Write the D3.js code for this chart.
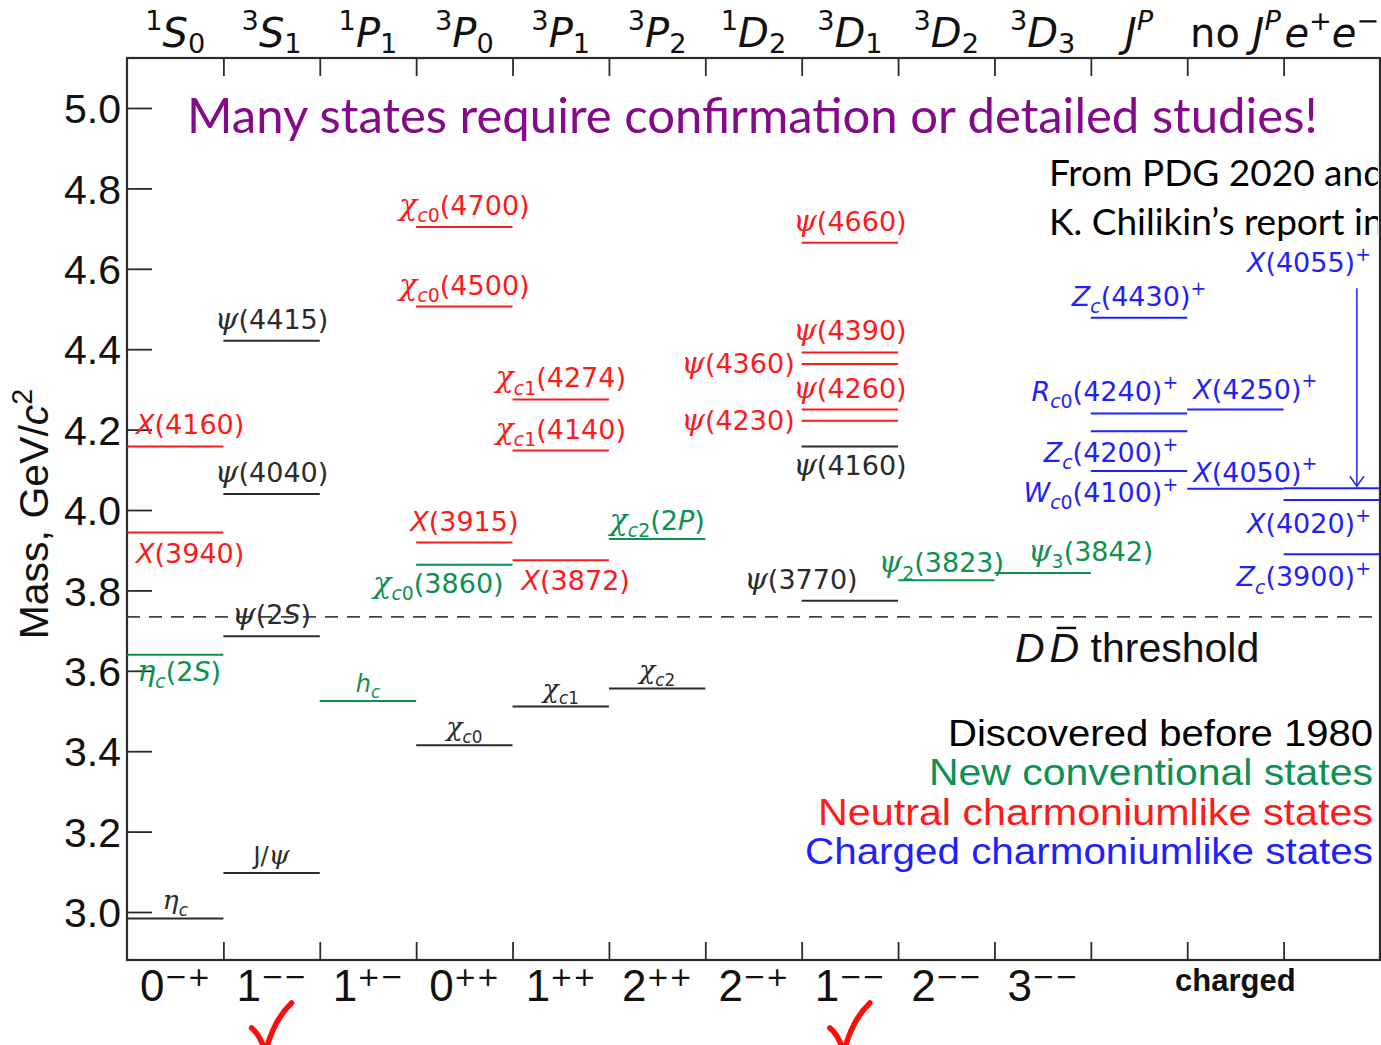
<!DOCTYPE html>
<html>
<head>
<meta charset="utf-8">
<script src="https://cdn.jsdelivr.net/npm/d3@7"></script>
<style>
  html, body { margin: 0; padding: 0; background: #fff; }
  svg { display: block; }
  text { white-space: pre; }
</style>
</head>
<body>
<svg id="chart" width="1381" height="1045"></svg>
<script>
// ---- Charmonium(-like) spectrum data -------------------------------------

// Spectroscopic term of each column (top) and J^PC of the neutral columns (bottom)
const termLabels = ["^1S_0", "^3S_1", "^1P_1", "^3P_0", "^3P_1", "^3P_2", "^1D_2", "^3D_1", "^3D_2", "^3D_3", "J^P", "[no] J^P", "e^+e^−"];
const jpcLabels = ["0^{−+}", "1^{−−}", "1^{+−}", "0^{++}", "1^{++}", "2^{++}", "2^{−+}", "1^{−−}", "2^{−−}", "3^{−−}"];
const chargedLabel = "charged";
const chargedColumns = [10, 11, 12];
const checkedColumns = [1, 7];           // the two 1-- columns
const massTicks = [3.0, 3.2, 3.4, 3.6, 3.8, 4.0, 4.2, 4.4, 4.6, 4.8, 5.0];
const ddThreshold = 3.734;               // 2 m(D), GeV/c^2
const yAxisTitle = "[Mass, GeV/]c^2";

// Each state: [name, mass (GeV/c^2), column]
const discoveredBefore1980 = [
  ["η_c", 2.984, 0],
  ["[J]/ψ", 3.097, 1],
  ["ψ(2S)", 3.686, 1],
  ["ψ(4040)", 4.040, 1],
  ["ψ(4415)", 4.421, 1],
  ["χ_{c0}", 3.415, 3],
  ["χ_{c1}", 3.511, 4],
  ["χ_{c2}", 3.556, 5],
  ["ψ(3770)", 3.774, 7],
  ["ψ(4160)", 4.158, 7]
];
const newConventional = [
  ["η_c(2S)", 3.640, 0],
  ["h_c", 3.525, 2],
  ["χ_{c0}(3860)", 3.864, 3],
  ["χ_{c2}(2P)", 3.928, 5],
  ["ψ_2(3823)", 3.825, 8],
  ["ψ_3(3842)", 3.843, 9]
];
const neutralExotic = [
  ["X(3940)", 3.944, 0],
  ["X(4160)", 4.158, 0],
  ["X(3915)", 3.919, 3],
  ["χ_{c0}(4500)", 4.506, 3],
  ["χ_{c0}(4700)", 4.704, 3],
  ["X(3872)", 3.875, 4],
  ["χ_{c1}(4140)", 4.148, 4],
  ["χ_{c1}(4274)", 4.275, 4],
  ["ψ(4230)", 4.222, 7],
  ["ψ(4260)", 4.250, 7],
  ["ψ(4360)", 4.363, 7],
  ["ψ(4390)", 4.392, 7],
  ["ψ(4660)", 4.665, 7]
];
const chargedExotic = [
  ["Z_c(4430)^+", 4.478, 10],
  ["R_{c0}(4240)^+", 4.240, 10],
  ["Z_c(4200)^+", 4.196, 10],
  ["W_{c0}(4100)^+", 4.097, 10],
  ["X(4250)^+", 4.250, 11],
  ["X(4050)^+", 4.053, 11],
  ["X(4055)^+", 4.054, 12],
  ["X(4020)^+", 4.025, 12],
  ["Z_c(3900)^+", 3.890, 12]
];

const groupNames = ["Discovered before 1980", "New conventional states", "Neutral charmoniumlike states", "Charged charmoniumlike states"];
const groupStates = [discoveredBefore1980, newConventional, neutralExotic, chargedExotic];

const headline = "Many states require confirmation or detailed studies!";
const sourceLines = ["From PDG 2020 and", "K. Chilikin’s report in"];

// ---- Styling ----------------------------------------------------------------
const groupColors = ["#2b2b2b", "#0d9150", "#ff1a1a", "#1f1fff"];
const legendColors = ["#000", "#0d9150", "#ff1a1a", "#1f1fff"];
const SANS = "'DejaVu Sans', sans-serif";
const SERIF = "'DejaVu Serif', serif";
const ARIAL = "'Liberation Sans', Arial, sans-serif";

// Label placement relative to its level (defaults: centred above the line)
const SMALL = { size: 24, dy: -9 };
const LEFT = { anchor: "end", at: 0, dx: -7, dy: 9 };
const labelLayout = {
  "η_c": SMALL, "[J]/ψ": SMALL, "h_c": SMALL,
  "χ_{c0}": SMALL, "χ_{c1}": SMALL, "χ_{c2}": SMALL,
  "η_c(2S)": { dx: 4, dy: 26 },
  "X(3940)": { dx: 15, dy: 30 },
  "X(4160)": { dx: 15 },
  "χ_{c0}(3860)": { dx: -26, dy: 28 },
  "X(3872)": { dx: 15, dy: 30 },
  "ψ(3770)": { dx: -49 },
  "ψ(4160)": { dy: 29 },
  "ψ(4230)": LEFT,
  "ψ(4360)": LEFT,
  "χ_{c2}(2P)": { dy: -9 },
  "ψ_2(3823)": { dx: -5, dy: -8 },
  "ψ_3(3842)": { dx: 48 },
  "R_{c0}(4240)^+": { anchor: "end", at: 1, dx: -9, dy: -13 },
  "Z_c(4200)^+": { anchor: "end", at: 1, dx: -9, dy: 31 },
  "W_{c0}(4100)^+": { anchor: "end", at: 1, dx: -9, dy: 31 },
  "X(4250)^+": { anchor: "start", at: 0, dx: 6, dy: -11 },
  "X(4050)^+": { anchor: "start", at: 0, dx: 6, dy: -7 },
  "X(4020)^+": { anchor: "end", at: 1, dx: -9, dy: 33 },
  "Z_c(3900)^+": { anchor: "end", at: 1, dx: -9, dy: 32 },
  "X(4055)^+": { anchor: "end", at: 1, dx: -9, dy: -216, arrow: { at: 0.76, from: -200, to: -2 } }
};

// ---- Scales -----------------------------------------------------------------
const svg = d3.select("#chart");
const frame = { left: 127, right: 1380, top: 58, bottom: 960 };
const nCols = termLabels.length;
const x = d3.scaleLinear().domain([0, nCols]).range([frame.left, frame.right]);
const y = d3.scaleLinear().domain([3.0, 5.0]).range([912, 108]);

// ---- Rich text: _sub, ^sup, [upright], Greek in serif italic ---------------
const GREEK = /[α-ωΑ-Ω]/;
function parseRich(str) {
  const out = [];
  let upright = false;
  for (let i = 0; i < str.length;) {
    const ch = str[i];
    if (ch === "[") { upright = true; i++; continue; }
    if (ch === "]") { upright = false; i++; continue; }
    if (ch === "_" || ch === "^") {
      const lvl = ch === "_" ? "sub" : "sup";
      let content;
      if (str[i + 1] === "{") { const j = str.indexOf("}", i + 2); content = str.slice(i + 2, j); i = j + 1; }
      else { content = str[i + 1]; i += 2; }
      for (const c of content) out.push({ c, lvl, upright });
      continue;
    }
    out.push({ c: ch, lvl: "base", upright });
    i++;
  }
  return out;
}
function charClass(d) {
  if (GREEK.test(d.c)) return "greek";
  if (/[A-Za-z]/.test(d.c) && !d.upright) return "ital";
  return "roman";
}
function richText(textSel, str, opt) {
  const o = Object.assign({ size: 27, script: 0.7, sub: 0.27, sup: -0.42, greekScale: 1.12, roman: SANS, ital: SANS, greek: SERIF, scriptRoman: null }, opt);
  const runs = [];
  parseRich(str).forEach(d => {
    const cls = charClass(d);
    const last = runs[runs.length - 1];
    if (last && last.lvl === d.lvl && last.cls === cls) last.s += d.c;
    else runs.push({ s: d.c, lvl: d.lvl, cls });
  });
  let shift = 0;
  runs.forEach(r => {
    const target = r.lvl === "sub" ? o.sub * o.size : r.lvl === "sup" ? o.sup * o.size : 0;
    let fs = r.lvl === "base" ? o.size : o.size * o.script;
    if (r.cls === "greek") fs *= o.greekScale;
    const t = textSel.append("tspan")
      .attr("dy", (target - shift).toFixed(2))
      .attr("font-size", fs.toFixed(2))
      .text(r.s);
    shift = target;
    if (r.cls === "greek") t.attr("font-family", o.greek).attr("font-style", "italic");
    else if (r.cls === "ital") t.attr("font-family", o.ital).attr("font-style", "italic");
    else t.attr("font-family", r.lvl !== "base" && o.scriptRoman ? o.scriptRoman : o.roman);
  });
  return textSel;
}
function fitWidth(textSel, width) {
  const w = textSel.node().getComputedTextLength();
  const fs = parseFloat(textSel.attr("font-size"));
  textSel.attr("font-size", (fs * width / w).toFixed(2));
}

// ---- Axes and frame ---------------------------------------------------------
const axisColor = "#2b2b2b";

const yAxis = svg.append("g")
  .attr("transform", `translate(${frame.left},0)`)
  .call(d3.axisLeft(y).tickValues(massTicks).tickSize(-25).tickPadding(6).tickFormat(d3.format(".1f")));
yAxis.select(".domain").remove();
yAxis.selectAll(".tick line").attr("stroke", axisColor).attr("stroke-width", 1.8);
yAxis.selectAll(".tick text")
  .attr("font-family", ARIAL).attr("font-size", 41).attr("fill", "#111").attr("dy", "0.36em");

const topAxis = svg.append("g")
  .attr("transform", `translate(0,${frame.top})`)
  .call(d3.axisTop(x).tickValues(d3.range(1, nCols)).tickSize(-18).tickFormat(""));
topAxis.select(".domain").remove();
topAxis.selectAll(".tick line").attr("stroke", axisColor).attr("stroke-width", 1.8);

const bottomAxis = svg.append("g")
  .attr("transform", `translate(0,${frame.bottom})`)
  .call(d3.axisBottom(x).tickValues(d3.range(1, nCols)).tickSize(-18).tickFormat(""));
bottomAxis.select(".domain").remove();
bottomAxis.selectAll(".tick line").attr("stroke", axisColor).attr("stroke-width", 1.8);

svg.append("rect")
  .attr("x", frame.left).attr("y", frame.top)
  .attr("width", frame.right - frame.left).attr("height", frame.bottom - frame.top)
  .attr("fill", "none").attr("stroke", axisColor).attr("stroke-width", 2.2);

// Y axis title
svg.append("text")
  .attr("transform", `translate(48,${y(3.99)}) rotate(-90)`)
  .attr("text-anchor", "middle")
  .attr("fill", "#111")
  .call(t => richText(t, yAxisTitle, { size: 41, roman: ARIAL, ital: ARIAL, sup: -0.38 }));

// Spectroscopic terms above the frame
svg.append("g").selectAll("text")
  .data(termLabels)
  .join("text")
  .attr("x", (d, i) => x(i + 0.5))
  .attr("y", 47)
  .attr("text-anchor", "middle")
  .attr("fill", "#111")
  .each(function (d) { richText(d3.select(this), d, { size: 40, script: 0.68, sub: 0.14, sup: -0.42 }); });

// J^PC below the frame
svg.append("g").selectAll("text")
  .data(jpcLabels)
  .join("text")
  .attr("x", (d, i) => x(i + 0.5))
  .attr("y", 1001)
  .attr("text-anchor", "middle")
  .attr("fill", "#111")
  .each(function (d) { richText(d3.select(this), d, { size: 44, script: 0.62, sup: -0.35, roman: ARIAL, scriptRoman: SANS }); });

svg.append("text")
  .attr("x", x(d3.mean(chargedColumns) + 0.5))
  .attr("y", 991)
  .attr("text-anchor", "middle")
  .attr("font-family", ARIAL).attr("font-size", 31).attr("font-weight", "bold")
  .attr("fill", "#111")
  .text(chargedLabel);

// Check marks under the vector columns
svg.append("g").selectAll("path")
  .data(checkedColumns)
  .join("path")
  .attr("d", c => {
    const cx = x(c + 0.5) - 1;
    return `M${cx - 19},1028 Q${cx - 11},1034 ${cx - 5},1052 Q${cx + 3},1020 ${cx + 21},1003`;
  })
  .attr("fill", "none").attr("stroke", "#ff0d0d").attr("stroke-width", 5.5)
  .attr("stroke-linecap", "round").attr("stroke-linejoin", "round");

// ---- DD threshold -----------------------------------------------------------
svg.append("line")
  .attr("x1", x(0)).attr("x2", x(nCols))
  .attr("y1", y(ddThreshold)).attr("y2", y(ddThreshold))
  .attr("stroke", "#444").attr("stroke-width", 1.8).attr("stroke-dasharray", "13,9");

const ddText = svg.append("text")
  .attr("x", 1015).attr("y", y(ddThreshold) + 45)
  .attr("font-family", ARIAL).attr("font-size", 41).attr("fill", "#111");
ddText.append("tspan").attr("font-style", "italic").text("D");
ddText.append("tspan").attr("font-style", "italic").attr("dx", 5).text("D");
ddText.append("tspan").text(" threshold");
{
  const box = ddText.node().getExtentOfChar(1);
  svg.append("line")
    .attr("x1", box.x + 7).attr("x2", box.x + box.width - 3)
    .attr("y1", box.y + 3).attr("y2", box.y + 3)
    .attr("stroke", "#111").attr("stroke-width", 2.4);
}

// ---- Levels and their labels ------------------------------------------------
const levels = svg.append("g");
groupStates.forEach((states, gi) => {
  const color = groupColors[gi];
  states.forEach(([name, mass, col]) => {
    const yy = y(mass);
    levels.append("line")
      .attr("x1", x(col)).attr("x2", x(col + 1))
      .attr("y1", yy).attr("y2", yy)
      .attr("stroke", color).attr("stroke-width", 2);

    const L = Object.assign({ anchor: "middle", at: 0.5, dx: 0, dy: -12, size: 27 }, labelLayout[name] || {});
    const t = levels.append("text")
      .attr("x", x(col + L.at) + L.dx)
      .attr("y", yy + L.dy)
      .attr("text-anchor", L.anchor)
      .attr("fill", color);
    richText(t, name, { size: L.size });

    if (L.arrow) {
      const ax = x(col + L.arrow.at);
      const y0 = yy + L.arrow.from, y1 = yy + L.arrow.to;
      levels.append("line")
        .attr("x1", ax).attr("x2", ax).attr("y1", y0).attr("y2", y1)
        .attr("stroke", color).attr("stroke-width", 1.5);
      levels.append("path")
        .attr("d", `M${ax - 7},${y1 - 10} L${ax},${y1} L${ax + 7},${y1 - 10}`)
        .attr("fill", "none").attr("stroke", color).attr("stroke-width", 1.5);
    }
  });
});

// ---- Legend -----------------------------------------------------------------
const legendWidths = [425, 444, 555, 568];
groupNames.forEach((name, i) => {
  svg.append("text")
    .attr("x", 1373).attr("y", 746 + i * 39.3)
    .attr("text-anchor", "end")
    .attr("font-family", ARIAL).attr("font-size", 36)
    .attr("textLength", legendWidths[i]).attr("lengthAdjust", "spacingAndGlyphs")
    .attr("fill", legendColors[i])
    .text(name);
});

// ---- Headline and source note -----------------------------------------------
const head = svg.append("text")
  .attr("x", 187).attr("y", 133)
  .attr("font-family", "Lato, 'Open Sans', sans-serif").attr("font-size", 44)
  .attr("fill", "#850a8a")
  .text(headline);
fitWidth(head, 1131);

svg.append("clipPath").attr("id", "clipNote")
  .append("rect").attr("x", 0).attr("y", 0).attr("width", 1378).attr("height", 300);
svg.append("g").attr("clip-path", "url(#clipNote)")
  .selectAll("text")
  .data(sourceLines)
  .join("text")
  .attr("x", 1049)
  .attr("y", (d, i) => 186 + i * 49)
  .attr("font-family", "Lato, 'Open Sans', sans-serif").attr("font-size", 37)
  .attr("fill", "#000")
  .text(d => d);
</script>
</body>
</html>
